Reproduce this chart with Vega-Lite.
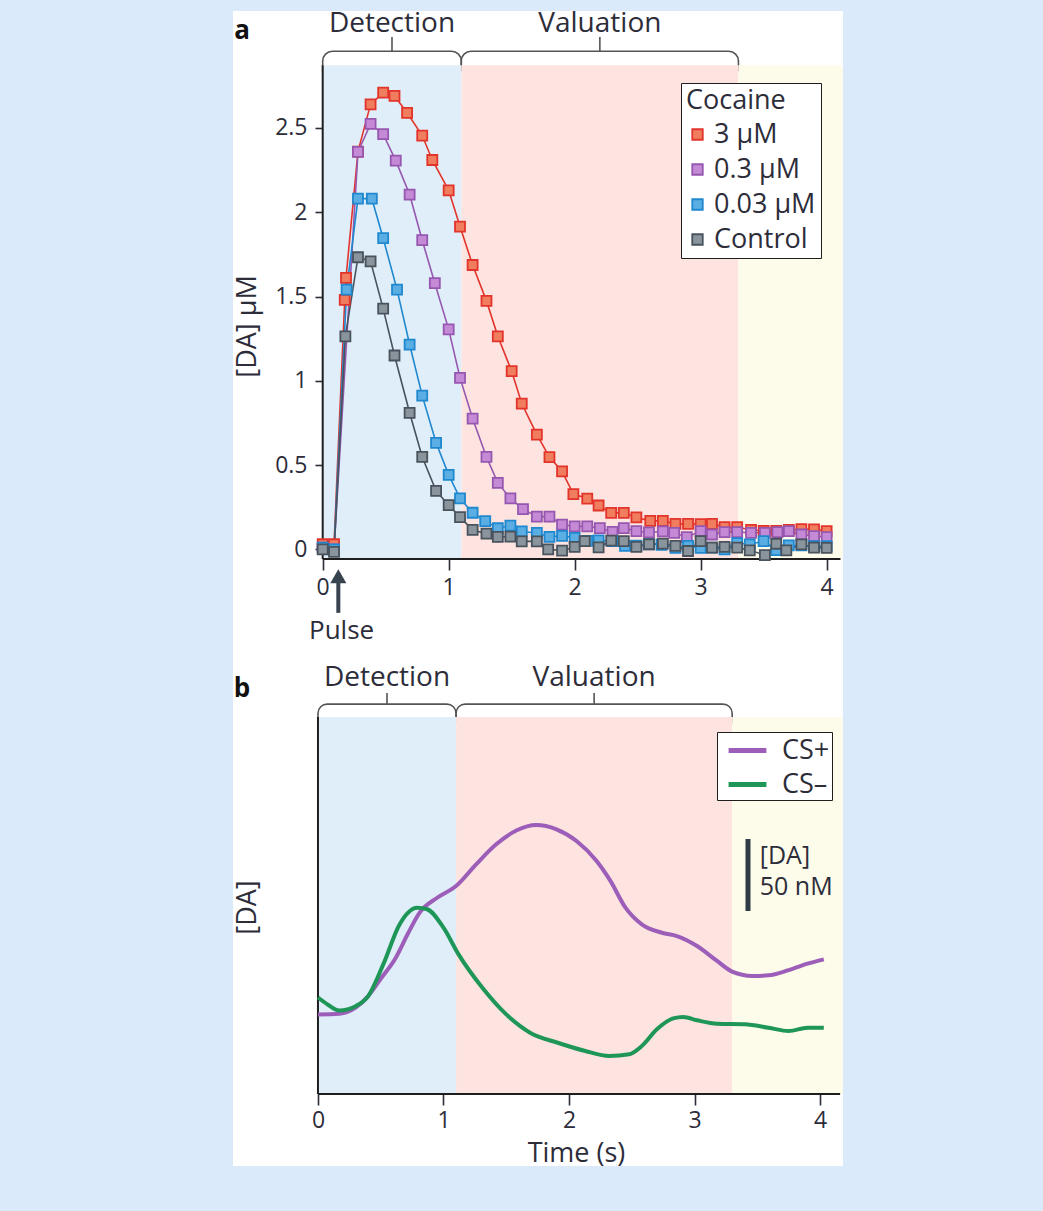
{
  "$schema": "https://vega.github.io/schema/vega-lite/v6.json",
  "background": "#dbeafb",
  "padding": {"left": 233, "top": 10, "right": 200, "bottom": 46},
  "spacing": 0,
  "bounds": "flush",
  "config": {
    "view": {"fill": "#ffffff", "stroke": null},
    "font": "Open Sans",
    "text": {"font": "Open Sans", "color": "#2d2d3a"},
    "axis": {"grid": false, "domain": false, "labelFont": "Open Sans", "titleFont": "Open Sans", "labelFontSize": 23, "titleFontSize": 27, "titleFontWeight": "normal", "labelColor": "#2d2d3a", "titleColor": "#2d2d3a", "tickColor": "#2d2d3a", "tickWidth": 1.6, "labelFlush": false, "labelOverlap": false},
    "legend": {"labelFont": "Open Sans", "titleFont": "Open Sans", "labelFontSize": 27, "titleFontSize": 27, "titleFontWeight": "normal", "labelColor": "#2d2d3a", "titleColor": "#2d2d3a", "fillColor": "#ffffff", "strokeColor": "#1e1e1e"}
  },
  "datasets": {
    "phases": [
      {"phase": "Detection", "start": 0, "end": 1.1},
      {"phase": "Valuation", "start": 1.1, "end": 3.3},
      {"phase": "Late", "start": 3.3, "end": 4.3}
    ],
    "cocaine": [
      {"t": 0.0, "da": 0.03, "conc": "3 µM"}, {"t": 0.09, "da": 0.03, "conc": "3 µM"}, {"t": 0.175, "da": 1.48, "conc": "3 µM"}, {"t": 0.185, "da": 1.61, "conc": "3 µM"}, {"t": 0.28, "da": 2.36, "conc": "3 µM"}, {"t": 0.38, "da": 2.64, "conc": "3 µM"}, {"t": 0.48, "da": 2.71, "conc": "3 µM"}, {"t": 0.57, "da": 2.69, "conc": "3 µM"}, {"t": 0.67, "da": 2.59, "conc": "3 µM"}, {"t": 0.79, "da": 2.455, "conc": "3 µM"}, {"t": 0.87, "da": 2.31, "conc": "3 µM"}, {"t": 1.0, "da": 2.13, "conc": "3 µM"}, {"t": 1.09, "da": 1.915, "conc": "3 µM"}, {"t": 1.19, "da": 1.687, "conc": "3 µM"}, {"t": 1.3, "da": 1.474, "conc": "3 µM"}, {"t": 1.39, "da": 1.264, "conc": "3 µM"}, {"t": 1.5, "da": 1.057, "conc": "3 µM"}, {"t": 1.58, "da": 0.865, "conc": "3 µM"}, {"t": 1.7, "da": 0.681, "conc": "3 µM"}, {"t": 1.8, "da": 0.547, "conc": "3 µM"}, {"t": 1.9, "da": 0.462, "conc": "3 µM"}, {"t": 1.99, "da": 0.328, "conc": "3 µM"}, {"t": 2.1, "da": 0.301, "conc": "3 µM"}, {"t": 2.19, "da": 0.26, "conc": "3 µM"}, {"t": 2.29, "da": 0.216, "conc": "3 µM"}, {"t": 2.39, "da": 0.216, "conc": "3 µM"}, {"t": 2.49, "da": 0.189, "conc": "3 µM"}, {"t": 2.6, "da": 0.169, "conc": "3 µM"}, {"t": 2.7, "da": 0.169, "conc": "3 µM"}, {"t": 2.8, "da": 0.151, "conc": "3 µM"}, {"t": 2.9, "da": 0.151, "conc": "3 µM"}, {"t": 3.0, "da": 0.15, "conc": "3 µM"}, {"t": 3.09, "da": 0.151, "conc": "3 µM"}, {"t": 3.19, "da": 0.132, "conc": "3 µM"}, {"t": 3.29, "da": 0.132, "conc": "3 µM"}, {"t": 3.4, "da": 0.115, "conc": "3 µM"}, {"t": 3.5, "da": 0.11, "conc": "3 µM"}, {"t": 3.6, "da": 0.11, "conc": "3 µM"}, {"t": 3.7, "da": 0.115, "conc": "3 µM"}, {"t": 3.8, "da": 0.12, "conc": "3 µM"}, {"t": 3.9, "da": 0.118, "conc": "3 µM"}, {"t": 4.0, "da": 0.108, "conc": "3 µM"},
      {"t": 0.0, "da": 0.01, "conc": "0.3 µM"}, {"t": 0.09, "da": 0.0, "conc": "0.3 µM"}, {"t": 0.28, "da": 2.358, "conc": "0.3 µM"}, {"t": 0.38, "da": 2.524, "conc": "0.3 µM"}, {"t": 0.48, "da": 2.463, "conc": "0.3 µM"}, {"t": 0.58, "da": 2.306, "conc": "0.3 µM"}, {"t": 0.69, "da": 2.105, "conc": "0.3 µM"}, {"t": 0.79, "da": 1.834, "conc": "0.3 µM"}, {"t": 0.89, "da": 1.579, "conc": "0.3 µM"}, {"t": 1.0, "da": 1.305, "conc": "0.3 µM"}, {"t": 1.09, "da": 1.017, "conc": "0.3 µM"}, {"t": 1.19, "da": 0.776, "conc": "0.3 µM"}, {"t": 1.3, "da": 0.548, "conc": "0.3 µM"}, {"t": 1.39, "da": 0.394, "conc": "0.3 µM"}, {"t": 1.49, "da": 0.302, "conc": "0.3 µM"}, {"t": 1.59, "da": 0.238, "conc": "0.3 µM"}, {"t": 1.7, "da": 0.194, "conc": "0.3 µM"}, {"t": 1.8, "da": 0.194, "conc": "0.3 µM"}, {"t": 1.9, "da": 0.146, "conc": "0.3 µM"}, {"t": 2.0, "da": 0.136, "conc": "0.3 µM"}, {"t": 2.1, "da": 0.136, "conc": "0.3 µM"}, {"t": 2.2, "da": 0.126, "conc": "0.3 µM"}, {"t": 2.3, "da": 0.103, "conc": "0.3 µM"}, {"t": 2.39, "da": 0.126, "conc": "0.3 µM"}, {"t": 2.49, "da": 0.108, "conc": "0.3 µM"}, {"t": 2.59, "da": 0.1, "conc": "0.3 µM"}, {"t": 2.7, "da": 0.106, "conc": "0.3 µM"}, {"t": 2.79, "da": 0.098, "conc": "0.3 µM"}, {"t": 2.89, "da": 0.072, "conc": "0.3 µM"}, {"t": 3.0, "da": 0.108, "conc": "0.3 µM"}, {"t": 3.09, "da": 0.088, "conc": "0.3 µM"}, {"t": 3.19, "da": 0.102, "conc": "0.3 µM"}, {"t": 3.29, "da": 0.102, "conc": "0.3 µM"}, {"t": 3.4, "da": 0.098, "conc": "0.3 µM"}, {"t": 3.51, "da": 0.098, "conc": "0.3 µM"}, {"t": 3.61, "da": 0.102, "conc": "0.3 µM"}, {"t": 3.7, "da": 0.108, "conc": "0.3 µM"}, {"t": 3.8, "da": 0.088, "conc": "0.3 µM"}, {"t": 3.9, "da": 0.078, "conc": "0.3 µM"}, {"t": 4.0, "da": 0.072, "conc": "0.3 µM"},
      {"t": 0.0, "da": 0.01, "conc": "0.03 µM"}, {"t": 0.09, "da": 0.0, "conc": "0.03 µM"}, {"t": 0.19, "da": 1.541, "conc": "0.03 µM"}, {"t": 0.28, "da": 2.081, "conc": "0.03 µM"}, {"t": 0.39, "da": 2.081, "conc": "0.03 µM"}, {"t": 0.48, "da": 1.846, "conc": "0.03 µM"}, {"t": 0.59, "da": 1.541, "conc": "0.03 µM"}, {"t": 0.69, "da": 1.215, "conc": "0.03 µM"}, {"t": 0.79, "da": 0.912, "conc": "0.03 µM"}, {"t": 0.9, "da": 0.632, "conc": "0.03 µM"}, {"t": 1.0, "da": 0.442, "conc": "0.03 µM"}, {"t": 1.09, "da": 0.302, "conc": "0.03 µM"}, {"t": 1.19, "da": 0.217, "conc": "0.03 µM"}, {"t": 1.29, "da": 0.167, "conc": "0.03 µM"}, {"t": 1.39, "da": 0.125, "conc": "0.03 µM"}, {"t": 1.49, "da": 0.14, "conc": "0.03 µM"}, {"t": 1.58, "da": 0.106, "conc": "0.03 µM"}, {"t": 1.7, "da": 0.097, "conc": "0.03 µM"}, {"t": 1.8, "da": 0.074, "conc": "0.03 µM"}, {"t": 1.9, "da": 0.08, "conc": "0.03 µM"}, {"t": 2.0, "da": 0.068, "conc": "0.03 µM"}, {"t": 2.1, "da": 0.05, "conc": "0.03 µM"}, {"t": 2.19, "da": 0.053, "conc": "0.03 µM"}, {"t": 2.3, "da": 0.049, "conc": "0.03 µM"}, {"t": 2.4, "da": 0.02, "conc": "0.03 µM"}, {"t": 2.49, "da": 0.022, "conc": "0.03 µM"}, {"t": 2.59, "da": 0.03, "conc": "0.03 µM"}, {"t": 2.69, "da": 0.027, "conc": "0.03 µM"}, {"t": 2.8, "da": 0.009, "conc": "0.03 µM"}, {"t": 2.9, "da": 0.02, "conc": "0.03 µM"}, {"t": 3.0, "da": 0.009, "conc": "0.03 µM"}, {"t": 3.09, "da": 0.01, "conc": "0.03 µM"}, {"t": 3.19, "da": 0.0, "conc": "0.03 µM"}, {"t": 3.29, "da": 0.037, "conc": "0.03 µM"}, {"t": 3.39, "da": 0.029, "conc": "0.03 µM"}, {"t": 3.5, "da": 0.049, "conc": "0.03 µM"}, {"t": 3.6, "da": -0.005, "conc": "0.03 µM"}, {"t": 3.7, "da": 0.023, "conc": "0.03 µM"}, {"t": 3.8, "da": 0.023, "conc": "0.03 µM"}, {"t": 3.9, "da": 0.019, "conc": "0.03 µM"}, {"t": 4.0, "da": 0.019, "conc": "0.03 µM"},
      {"t": 0.0, "da": 0.0, "conc": "Control"}, {"t": 0.09, "da": -0.015, "conc": "Control"}, {"t": 0.18, "da": 1.263, "conc": "Control"}, {"t": 0.28, "da": 1.733, "conc": "Control"}, {"t": 0.38, "da": 1.709, "conc": "Control"}, {"t": 0.48, "da": 1.428, "conc": "Control"}, {"t": 0.57, "da": 1.15, "conc": "Control"}, {"t": 0.69, "da": 0.81, "conc": "Control"}, {"t": 0.79, "da": 0.548, "conc": "Control"}, {"t": 0.9, "da": 0.347, "conc": "Control"}, {"t": 1.0, "da": 0.262, "conc": "Control"}, {"t": 1.09, "da": 0.191, "conc": "Control"}, {"t": 1.19, "da": 0.115, "conc": "Control"}, {"t": 1.3, "da": 0.093, "conc": "Control"}, {"t": 1.39, "da": 0.074, "conc": "Control"}, {"t": 1.49, "da": 0.075, "conc": "Control"}, {"t": 1.58, "da": 0.047, "conc": "Control"}, {"t": 1.7, "da": 0.047, "conc": "Control"}, {"t": 1.79, "da": 0.0, "conc": "Control"}, {"t": 1.9, "da": -0.008, "conc": "Control"}, {"t": 2.0, "da": 0.014, "conc": "Control"}, {"t": 2.08, "da": 0.049, "conc": "Control"}, {"t": 2.19, "da": 0.012, "conc": "Control"}, {"t": 2.29, "da": 0.051, "conc": "Control"}, {"t": 2.39, "da": 0.049, "conc": "Control"}, {"t": 2.49, "da": 0.014, "conc": "Control"}, {"t": 2.59, "da": 0.03, "conc": "Control"}, {"t": 2.7, "da": 0.034, "conc": "Control"}, {"t": 2.8, "da": 0.02, "conc": "Control"}, {"t": 2.9, "da": -0.01, "conc": "Control"}, {"t": 3.0, "da": 0.049, "conc": "Control"}, {"t": 3.09, "da": 0.01, "conc": "Control"}, {"t": 3.19, "da": 0.015, "conc": "Control"}, {"t": 3.29, "da": 0.01, "conc": "Control"}, {"t": 3.39, "da": -0.006, "conc": "Control"}, {"t": 3.51, "da": -0.034, "conc": "Control"}, {"t": 3.6, "da": 0.033, "conc": "Control"}, {"t": 3.68, "da": -0.006, "conc": "Control"}, {"t": 3.8, "da": 0.029, "conc": "Control"}, {"t": 3.9, "da": 0.01, "conc": "Control"}, {"t": 4.0, "da": 0.008, "conc": "Control"}
    ],
    "cs": [
      {"t": 0.0, "da": 55.3, "cs": "CS+"}, {"t": 0.17, "da": 55.8, "cs": "CS+"}, {"t": 0.3, "da": 60, "cs": "CS+"}, {"t": 0.4, "da": 68, "cs": "CS+"}, {"t": 0.5, "da": 80, "cs": "CS+"}, {"t": 0.62, "da": 94.7, "cs": "CS+"}, {"t": 0.72, "da": 112, "cs": "CS+"}, {"t": 0.81, "da": 126, "cs": "CS+"}, {"t": 0.95, "da": 136.3, "cs": "CS+"}, {"t": 1.1, "da": 144.4, "cs": "CS+"}, {"t": 1.26, "da": 159.5, "cs": "CS+"}, {"t": 1.42, "da": 173.4, "cs": "CS+"}, {"t": 1.58, "da": 183, "cs": "CS+"}, {"t": 1.74, "da": 186.8, "cs": "CS+"}, {"t": 1.9, "da": 183.8, "cs": "CS+"}, {"t": 2.06, "da": 175.7, "cs": "CS+"}, {"t": 2.22, "da": 161.8, "cs": "CS+"}, {"t": 2.33, "da": 148, "cs": "CS+"}, {"t": 2.45, "da": 129.4, "cs": "CS+"}, {"t": 2.58, "da": 117.8, "cs": "CS+"}, {"t": 2.74, "da": 112, "cs": "CS+"}, {"t": 2.86, "da": 109.7, "cs": "CS+"}, {"t": 3.02, "da": 102.8, "cs": "CS+"}, {"t": 3.18, "da": 92.4, "cs": "CS+"}, {"t": 3.3, "da": 85, "cs": "CS+"}, {"t": 3.46, "da": 82, "cs": "CS+"}, {"t": 3.59, "da": 82.4, "cs": "CS+"}, {"t": 3.75, "da": 86, "cs": "CS+"}, {"t": 3.9, "da": 90.5, "cs": "CS+"}, {"t": 4.03, "da": 93.5, "cs": "CS+"},
      {"t": 0.0, "da": 67, "cs": "CS–"}, {"t": 0.08, "da": 62, "cs": "CS–"}, {"t": 0.17, "da": 58, "cs": "CS–"}, {"t": 0.3, "da": 61, "cs": "CS–"}, {"t": 0.4, "da": 68, "cs": "CS–"}, {"t": 0.52, "da": 90, "cs": "CS–"}, {"t": 0.65, "da": 117.8, "cs": "CS–"}, {"t": 0.79, "da": 129.4, "cs": "CS–"}, {"t": 0.87, "da": 128.3, "cs": "CS–"}, {"t": 1.0, "da": 115.5, "cs": "CS–"}, {"t": 1.12, "da": 97, "cs": "CS–"}, {"t": 1.31, "da": 73.8, "cs": "CS–"}, {"t": 1.5, "da": 55.3, "cs": "CS–"}, {"t": 1.69, "da": 42.6, "cs": "CS–"}, {"t": 1.91, "da": 35.6, "cs": "CS–"}, {"t": 2.13, "da": 29.9, "cs": "CS–"}, {"t": 2.32, "da": 26.4, "cs": "CS–"}, {"t": 2.48, "da": 27.6, "cs": "CS–"}, {"t": 2.58, "da": 33.3, "cs": "CS–"}, {"t": 2.7, "da": 44.9, "cs": "CS–"}, {"t": 2.83, "da": 52.5, "cs": "CS–"}, {"t": 2.91, "da": 53.5, "cs": "CS–"}, {"t": 3.02, "da": 51.2, "cs": "CS–"}, {"t": 3.18, "da": 48.8, "cs": "CS–"}, {"t": 3.4, "da": 48.4, "cs": "CS–"}, {"t": 3.59, "da": 46, "cs": "CS–"}, {"t": 3.75, "da": 43.75, "cs": "CS–"}, {"t": 3.9, "da": 46, "cs": "CS–"}, {"t": 4.03, "da": 46, "cs": "CS–"}
    ]
  },
  "vconcat": [
    {
      "width": 610,
      "height": 645,
      "layer": [
        {
          "data": {"name": "phases"},
          "transform": [{"filter": "datum.phase !== 'Late'"}],
          "mark": {"type": "rect", "fill": "#ffffff", "fillOpacity": 0, "stroke": "#555555", "strokeWidth": 1.6, "cornerRadiusTopLeft": 12, "cornerRadiusTopRight": 12},
          "encoding": {
            "x": {"field": "start", "type": "quantitative", "scale": {"domain": [-0.712, 4.13], "nice": false, "zero": false}},
            "x2": {"field": "end"},
            "y": {"datum": 2.955, "type": "quantitative", "scale": {"domain": [-0.633, 3.194], "nice": false, "zero": false}},
            "y2": {"datum": 2.84}
          }
        },
        {
          "data": {"name": "phases"},
          "mark": {"type": "rect", "clip": true},
          "encoding": {
            "x": {"field": "start", "type": "quantitative", "scale": {"domain": [-0.712, 4.13], "nice": false, "zero": false}},
            "x2": {"field": "end"},
            "y": {"datum": -0.058, "type": "quantitative", "scale": {"domain": [-0.633, 3.194], "nice": false, "zero": false}},
            "y2": {"datum": 2.872},
            "color": {"field": "phase", "type": "nominal", "scale": {"domain": ["Detection", "Valuation", "Late"], "range": ["#e0eef9", "#fde4e0", "#fdfbea"]}, "legend": null}
          }
        },
        {
          "data": {"name": "phases"},
          "transform": [{"filter": "datum.phase !== 'Late'"}, {"fold": ["start", "end"], "as": ["edge", "tt"]}, {"aggregate": [{"op": "mean", "field": "tt", "as": "mid"}], "groupby": ["phase"]}],
          "mark": {"type": "rule", "color": "#555555", "strokeWidth": 1.6},
          "encoding": {
            "x": {"field": "mid", "type": "quantitative", "scale": {"domain": [-0.712, 4.13], "nice": false, "zero": false}},
            "y": {"datum": 2.955, "type": "quantitative", "scale": {"domain": [-0.633, 3.194], "nice": false, "zero": false}},
            "y2": {"datum": 3.04}
          }
        },
        {
          "data": {"name": "phases"},
          "transform": [{"filter": "datum.phase !== 'Late'"}, {"fold": ["start", "end"], "as": ["edge", "tt"]}, {"aggregate": [{"op": "mean", "field": "tt", "as": "mid"}], "groupby": ["phase"]}],
          "mark": {"type": "text", "fontSize": 28, "align": "center", "baseline": "middle"},
          "encoding": {
            "x": {"field": "mid", "type": "quantitative", "scale": {"domain": [-0.712, 4.13], "nice": false, "zero": false}},
            "y": {"datum": 3.115, "type": "quantitative", "scale": {"domain": [-0.633, 3.194], "nice": false, "zero": false}},
            "text": {"field": "phase"}
          }
        },
        {
          "data": {"values": [{}]},
          "mark": {"type": "rule", "color": "#1e1e1e", "strokeWidth": 2},
          "encoding": {
            "x": {"datum": 0, "type": "quantitative", "scale": {"domain": [-0.712, 4.13], "nice": false, "zero": false}},
            "y": {"datum": -0.058, "type": "quantitative", "scale": {"domain": [-0.633, 3.194], "nice": false, "zero": false}},
            "y2": {"datum": 2.872}
          }
        },
        {
          "data": {"values": [{}]},
          "mark": {"type": "rule", "color": "#1e1e1e", "strokeWidth": 2},
          "encoding": {
            "x": {"datum": 0, "type": "quantitative", "scale": {"domain": [-0.712, 4.13], "nice": false, "zero": false}},
            "x2": {"datum": 4.11},
            "y": {"datum": -0.058, "type": "quantitative", "scale": {"domain": [-0.633, 3.194], "nice": false, "zero": false}}
          }
        },
        {
          "data": {"name": "cocaine"},
          "mark": {"type": "line", "strokeWidth": 1.6},
          "encoding": {
            "x": {"field": "t", "type": "quantitative", "scale": {"domain": [-0.712, 4.13], "nice": false, "zero": false}, "axis": {"values": [0, 1, 2, 3, 4], "format": "d", "offset": -97, "title": null, "tickSize": 11, "labelPadding": 6}},
            "y": {"field": "da", "type": "quantitative", "scale": {"domain": [-0.633, 3.194], "nice": false, "zero": false}, "axis": {"values": [0, 0.5, 1, 1.5, 2, 2.5], "format": ".1~f", "offset": -90, "tickSize": 8, "labelPadding": 8, "title": "[DA] µM", "titleX": -62, "titleY": 315}},
            "stroke": {"field": "conc", "type": "nominal", "scale": {"domain": ["3 µM", "0.3 µM", "0.03 µM", "Control"], "range": ["#e3342c", "#9657b0", "#1f88cf", "#48535d"]}}
          }
        },
        {
          "data": {"name": "cocaine"},
          "mark": {"type": "point", "shape": "square", "filled": true, "size": 100, "strokeWidth": 1.8, "opacity": 1},
          "encoding": {
            "x": {"field": "t", "type": "quantitative", "scale": {"domain": [-0.712, 4.13], "nice": false, "zero": false}},
            "y": {"field": "da", "type": "quantitative", "scale": {"domain": [-0.633, 3.194], "nice": false, "zero": false}},
            "fill": {"field": "conc", "type": "nominal", "scale": {"domain": ["3 µM", "0.3 µM", "0.03 µM", "Control"], "range": ["#ef7d5e", "#c48ad6", "#5aaee3", "#8a949c"]}, "legend": {"title": "Cocaine", "orient": "none", "legendX": 448, "legendY": 72, "symbolType": "square", "symbolSize": 110, "symbolStrokeWidth": 1.8, "padding": 5, "rowPadding": 7, "titlePadding": 6, "symbolOffset": -2, "labelOffset": 3}},
            "stroke": {"field": "conc", "type": "nominal", "scale": {"domain": ["3 µM", "0.3 µM", "0.03 µM", "Control"], "range": ["#e3342c", "#9657b0", "#1f88cf", "#48535d"]}, "legend": {"title": "Cocaine", "orient": "none", "legendX": 448, "legendY": 72, "symbolType": "square", "symbolSize": 110, "symbolStrokeWidth": 1.8, "padding": 5, "rowPadding": 7, "titlePadding": 6, "symbolOffset": -2, "labelOffset": 3}}
          }
        },
        {
          "data": {"values": [{}]},
          "mark": {"type": "rule", "color": "#37434f", "strokeWidth": 4},
          "encoding": {
            "x": {"datum": 0.124, "type": "quantitative", "scale": {"domain": [-0.712, 4.13], "nice": false, "zero": false}},
            "y": {"datum": -0.14, "type": "quantitative", "scale": {"domain": [-0.633, 3.194], "nice": false, "zero": false}},
            "y2": {"datum": -0.377}
          }
        },
        {
          "data": {"values": [{}]},
          "mark": {"type": "point", "shape": "triangle-up", "filled": true, "size": 260, "color": "#37434f", "opacity": 1},
          "encoding": {
            "x": {"datum": 0.124, "type": "quantitative", "scale": {"domain": [-0.712, 4.13], "nice": false, "zero": false}},
            "y": {"datum": -0.16, "type": "quantitative", "scale": {"domain": [-0.633, 3.194], "nice": false, "zero": false}}
          }
        },
        {
          "data": {"values": [{}]},
          "mark": {"type": "text", "text": "Pulse", "fontSize": 26, "align": "center", "baseline": "middle"},
          "encoding": {
            "x": {"datum": 0.15, "type": "quantitative", "scale": {"domain": [-0.712, 4.13], "nice": false, "zero": false}},
            "y": {"datum": -0.485, "type": "quantitative", "scale": {"domain": [-0.633, 3.194], "nice": false, "zero": false}}
          }
        },
        {
          "data": {"values": [{}]},
          "mark": {"type": "text", "text": "a", "fontSize": 26, "fontWeight": "bold", "align": "center", "baseline": "middle", "color": "#111111"},
          "encoding": {
            "x": {"datum": -0.64, "type": "quantitative", "scale": {"domain": [-0.712, 4.13], "nice": false, "zero": false}},
            "y": {"datum": 3.073, "type": "quantitative", "scale": {"domain": [-0.633, 3.194], "nice": false, "zero": false}}
          }
        }
      ]
    },
    {
      "width": 610,
      "height": 510,
      "layer": [
        {
          "data": {"name": "phases"},
          "transform": [{"filter": "datum.phase !== 'Late'"}],
          "mark": {"type": "rect", "fill": "#ffffff", "fillOpacity": 0, "stroke": "#555555", "strokeWidth": 1.6, "cornerRadiusTopLeft": 12, "cornerRadiusTopRight": 12},
          "encoding": {
            "x": {"field": "start", "type": "quantitative", "scale": {"domain": [-0.677, 4.183], "nice": false, "zero": false}},
            "x2": {"field": "end"},
            "y": {"datum": 270.8, "type": "quantitative", "scale": {"domain": [-50, 304.2], "nice": false, "zero": false}},
            "y2": {"datum": 258}
          }
        },
        {
          "data": {"name": "phases"},
          "mark": {"type": "rect", "clip": true},
          "encoding": {
            "x": {"field": "start", "type": "quantitative", "scale": {"domain": [-0.677, 4.183], "nice": false, "zero": false}},
            "x2": {"field": "end"},
            "y": {"datum": 0, "type": "quantitative", "scale": {"domain": [-50, 304.2], "nice": false, "zero": false}},
            "y2": {"datum": 261.8},
            "color": {"field": "phase", "type": "nominal", "scale": {"domain": ["Detection", "Valuation", "Late"], "range": ["#e0eef9", "#fde4e0", "#fdfbea"]}, "legend": null}
          }
        },
        {
          "data": {"name": "phases"},
          "transform": [{"filter": "datum.phase !== 'Late'"}, {"fold": ["start", "end"], "as": ["edge", "tt"]}, {"aggregate": [{"op": "mean", "field": "tt", "as": "mid"}], "groupby": ["phase"]}],
          "mark": {"type": "rule", "color": "#555555", "strokeWidth": 1.6},
          "encoding": {
            "x": {"field": "mid", "type": "quantitative", "scale": {"domain": [-0.677, 4.183], "nice": false, "zero": false}},
            "y": {"datum": 270.8, "type": "quantitative", "scale": {"domain": [-50, 304.2], "nice": false, "zero": false}},
            "y2": {"datum": 278.5}
          }
        },
        {
          "data": {"name": "phases"},
          "transform": [{"filter": "datum.phase !== 'Late'"}, {"fold": ["start", "end"], "as": ["edge", "tt"]}, {"aggregate": [{"op": "mean", "field": "tt", "as": "mid"}], "groupby": ["phase"]}],
          "mark": {"type": "text", "fontSize": 28, "align": "center", "baseline": "middle"},
          "encoding": {
            "x": {"field": "mid", "type": "quantitative", "scale": {"domain": [-0.677, 4.183], "nice": false, "zero": false}},
            "y": {"datum": 288.9, "type": "quantitative", "scale": {"domain": [-50, 304.2], "nice": false, "zero": false}},
            "text": {"field": "phase"}
          }
        },
        {
          "data": {"values": [{}]},
          "mark": {"type": "rule", "color": "#1e1e1e", "strokeWidth": 2},
          "encoding": {
            "x": {"datum": 0, "type": "quantitative", "scale": {"domain": [-0.677, 4.183], "nice": false, "zero": false}},
            "y": {"datum": 0, "type": "quantitative", "scale": {"domain": [-50, 304.2], "nice": false, "zero": false}},
            "y2": {"datum": 261.8}
          }
        },
        {
          "data": {"values": [{}]},
          "mark": {"type": "rule", "color": "#1e1e1e", "strokeWidth": 2},
          "encoding": {
            "x": {"datum": 0, "type": "quantitative", "scale": {"domain": [-0.677, 4.183], "nice": false, "zero": false}},
            "x2": {"datum": 4.16},
            "y": {"datum": 0, "type": "quantitative", "scale": {"domain": [-50, 304.2], "nice": false, "zero": false}}
          }
        },
        {
          "data": {"name": "cs"},
          "mark": {"type": "line", "strokeWidth": 4, "interpolate": "monotone"},
          "encoding": {
            "x": {"field": "t", "type": "quantitative", "scale": {"domain": [-0.677, 4.183], "nice": false, "zero": false}, "axis": {"values": [0, 1, 2, 3, 4], "format": "d", "offset": -72, "title": "Time (s)", "tickSize": 11, "labelPadding": 4, "titleX": 343, "titleY": 46}},
            "y": {"field": "da", "type": "quantitative", "scale": {"domain": [-50, 304.2], "nice": false, "zero": false}, "axis": {"values": [], "ticks": false, "labels": false, "offset": -85, "title": "[DA]", "titleX": -57, "titleY": 251}},
            "stroke": {"field": "cs", "type": "nominal", "scale": {"domain": ["CS+", "CS–"], "range": ["#9c5eb8", "#1e9657"]}, "legend": {"title": null, "orient": "none", "legendX": 484, "legendY": 76, "symbolType": "M-1.4,0H1.4", "symbolSize": 730, "symbolStrokeWidth": 5, "padding": 2, "rowPadding": 4, "symbolOffset": 12, "labelOffset": 18}}
          }
        },
        {
          "data": {"values": [{}]},
          "mark": {"type": "rule", "color": "#2f3c48", "strokeWidth": 5},
          "encoding": {
            "x": {"datum": 3.426, "type": "quantitative", "scale": {"domain": [-0.677, 4.183], "nice": false, "zero": false}},
            "y": {"datum": 127.1, "type": "quantitative", "scale": {"domain": [-50, 304.2], "nice": false, "zero": false}},
            "y2": {"datum": 177.1}
          }
        },
        {
          "data": {"values": [{}]},
          "mark": {"type": "text", "text": "[DA]", "fontSize": 25, "align": "left", "baseline": "middle"},
          "encoding": {
            "x": {"datum": 3.52, "type": "quantitative", "scale": {"domain": [-0.677, 4.183], "nice": false, "zero": false}},
            "y": {"datum": 165.3, "type": "quantitative", "scale": {"domain": [-50, 304.2], "nice": false, "zero": false}}
          }
        },
        {
          "data": {"values": [{}]},
          "mark": {"type": "text", "text": "50 nM", "fontSize": 25, "align": "left", "baseline": "middle"},
          "encoding": {
            "x": {"datum": 3.52, "type": "quantitative", "scale": {"domain": [-0.677, 4.183], "nice": false, "zero": false}},
            "y": {"datum": 143.7, "type": "quantitative", "scale": {"domain": [-50, 304.2], "nice": false, "zero": false}}
          }
        },
        {
          "data": {"values": [{}]},
          "mark": {"type": "text", "text": "b", "fontSize": 26, "fontWeight": "bold", "align": "center", "baseline": "middle", "color": "#111111"},
          "encoding": {
            "x": {"datum": -0.606, "type": "quantitative", "scale": {"domain": [-0.677, 4.183], "nice": false, "zero": false}},
            "y": {"datum": 281, "type": "quantitative", "scale": {"domain": [-50, 304.2], "nice": false, "zero": false}}
          }
        }
      ]
    }
  ],
  "resolve": {"scale": {"x": "independent", "y": "independent", "color": "independent", "stroke": "independent", "fill": "independent"}}
}
